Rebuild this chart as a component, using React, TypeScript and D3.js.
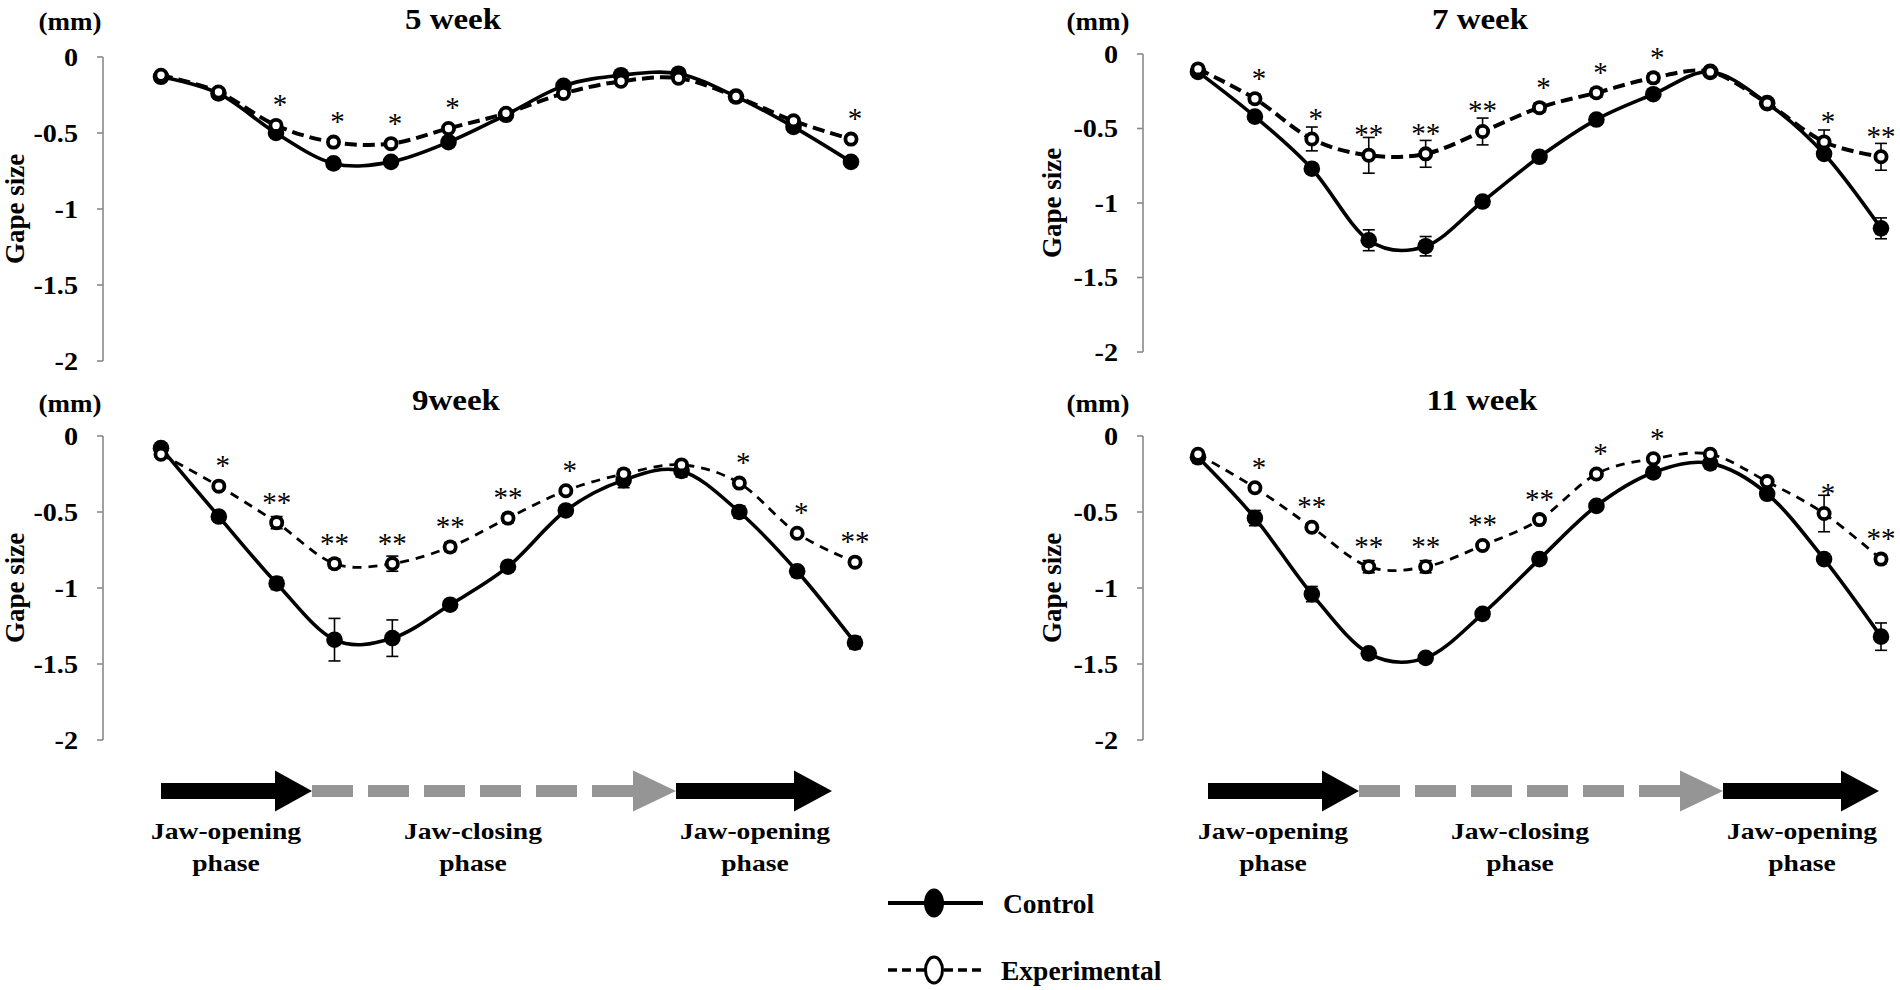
import * as d3 from 'd3';

// 13 time points through one chewing cycle
const timePoints = [1, 2, 3, 4, 5, 6, 7, 8, 9, 10, 11, 12, 13];

const yTicks = [0, -0.5, -1, -1.5, -2];
const yTickLabels = ['0', '-0.5', '-1', '-1.5', '-2'];

const control5 = [-0.13, -0.24, -0.5, -0.7, -0.69, -0.56, -0.38, -0.19, -0.12, -0.11, -0.26, -0.46, -0.69];
const experimental5 = [-0.12, -0.23, -0.45, -0.56, -0.57, -0.47, -0.37, -0.24, -0.16, -0.14, -0.26, -0.42, -0.54];
const controlErr5 = [0.02, 0.02, 0.02, 0.02, 0.02, 0.02, 0.02, 0.02, 0.02, 0.02, 0.02, 0.02, 0.02];
const experimentalErr5 = [0.02, 0.02, 0.02, 0.02, 0.02, 0.02, 0.02, 0.02, 0.02, 0.02, 0.02, 0.02, 0.02];
const stars5 = ['', '', '*', '*', '*', '*', '', '', '', '', '', '', '*'];

const control7 = [-0.12, -0.42, -0.77, -1.25, -1.29, -0.99, -0.69, -0.44, -0.27, -0.12, -0.33, -0.67, -1.17];
const experimental7 = [-0.1, -0.3, -0.57, -0.68, -0.67, -0.52, -0.36, -0.26, -0.16, -0.12, -0.33, -0.59, -0.69];
const controlErr7 = [0.02, 0.03, 0.03, 0.07, 0.065, 0.03, 0.03, 0.02, 0.02, 0.02, 0.02, 0.03, 0.07];
const experimentalErr7 = [0.02, 0.03, 0.08, 0.12, 0.09, 0.09, 0.03, 0.03, 0.03, 0.02, 0.02, 0.08, 0.09];
const stars7 = ['', '*', '*', '**', '**', '**', '*', '*', '*', '', '', '*', '**'];

const control9 = [-0.08, -0.53, -0.97, -1.34, -1.33, -1.11, -0.86, -0.49, -0.29, -0.23, -0.5, -0.89, -1.36];
const experimental9 = [-0.12, -0.33, -0.57, -0.84, -0.84, -0.73, -0.54, -0.36, -0.25, -0.19, -0.31, -0.64, -0.83];
const controlErr9 = [0.02, 0.03, 0.04, 0.14, 0.12, 0.03, 0.03, 0.03, 0.05, 0.04, 0.04, 0.03, 0.04];
const experimentalErr9 = [0.02, 0.02, 0.04, 0.03, 0.05, 0.03, 0.03, 0.02, 0.03, 0.02, 0.02, 0.02, 0.02];
const stars9 = ['', '*', '**', '**', '**', '**', '**', '*', '', '', '*', '*', '**'];

const control11 = [-0.14, -0.54, -1.04, -1.43, -1.46, -1.17, -0.81, -0.46, -0.24, -0.18, -0.38, -0.81, -1.32];
const experimental11 = [-0.12, -0.34, -0.6, -0.86, -0.86, -0.72, -0.55, -0.25, -0.15, -0.12, -0.3, -0.51, -0.81];
const controlErr11 = [0.02, 0.05, 0.05, 0.03, 0.03, 0.03, 0.02, 0.02, 0.02, 0.02, 0.02, 0.02, 0.09];
const experimentalErr11 = [0.02, 0.02, 0.02, 0.04, 0.04, 0.02, 0.02, 0.02, 0.02, 0.02, 0.02, 0.12, 0.03];
const stars11 = ['', '*', '**', '**', '**', '**', '**', '*', '*', '', '', '*', '**'];

const phaseLabels = [
  ['Jaw-opening', 'phase'],
  ['Jaw-closing', 'phase'],
  ['Jaw-opening', 'phase'],
];
const legendLabels = ['Control', 'Experimental'];

const SERIF = '"Liberation Serif", "Times New Roman", Times, serif';

type Panel = {
  title: string;
  control: number[];
  experimental: number[];
  controlErr: number[];
  experimentalErr: number[];
  stars: string[];
  axisX: number;
  xFirst: number;
  xLast: number;
  yTop: number;
  yBottom: number;
  titleX: number;
  titleY: number;
  unitX: number;
  unitY: number;
  gapeX: number;
  dashWidth: number;
  dash: string;
};

const panels: Panel[] = [
  {
    title: '5 week', control: control5, experimental: experimental5, controlErr: controlErr5,
    experimentalErr: experimentalErr5, stars: stars5,
    axisX: 103, xFirst: 161, xLast: 851, yTop: 57, yBottom: 361,
    titleX: 453, titleY: 29, unitX: 70, unitY: 30, gapeX: 15, dashWidth: 4, dash: '12 6',
  },
  {
    title: '7 week', control: control7, experimental: experimental7, controlErr: controlErr7,
    experimentalErr: experimentalErr7, stars: stars7,
    axisX: 1143, xFirst: 1198, xLast: 1881, yTop: 54, yBottom: 352,
    titleX: 1480, titleY: 29, unitX: 1098, unitY: 30, gapeX: 1052, dashWidth: 4, dash: '12 6',
  },
  {
    title: '9week', control: control9, experimental: experimental9, controlErr: controlErr9,
    experimentalErr: experimentalErr9, stars: stars9,
    axisX: 103, xFirst: 161, xLast: 855, yTop: 436, yBottom: 740,
    titleX: 456, titleY: 410, unitX: 70, unitY: 412, gapeX: 15, dashWidth: 2.8, dash: '9 7',
  },
  {
    title: '11 week', control: control11, experimental: experimental11, controlErr: controlErr11,
    experimentalErr: experimentalErr11, stars: stars11,
    axisX: 1143, xFirst: 1198, xLast: 1881, yTop: 436, yBottom: 740,
    titleX: 1482, titleY: 410, unitX: 1098, unitY: 412, gapeX: 1052, dashWidth: 2.8, dash: '9 7',
  },
];

function Label({ x, y, size, sx = 1, anchor = 'middle', weight = 'bold', rotate = 0, children }: {
  x: number; y: number; size: number; sx?: number; anchor?: string; weight?: string; rotate?: number;
  children: React.ReactNode;
}) {
  return (
    <text
      transform={`translate(${x},${y}) rotate(${rotate}) scale(${sx},1)`}
      textAnchor={anchor}
      fontSize={size}
      fontWeight={weight}
      fontFamily={SERIF}
      fill="#000"
    >
      {children}
    </text>
  );
}

function ChartPanel({ p }: { p: Panel }) {
  const x = d3.scaleLinear().domain([1, 13]).range([p.xFirst, p.xLast]);
  const y = d3.scaleLinear().domain([0, -2]).range([p.yTop, p.yBottom]);
  const line = d3
    .line<number>()
    .x((_, i) => x(timePoints[i]))
    .y((d) => y(d))
    .curve(d3.curveCardinal.tension(0));

  const errBar = (v: number, e: number, i: number, key: string) => {
    const cx = x(timePoints[i]);
    const y1 = y(v + e);
    const y2 = y(v - e);
    return (
      <g key={key} stroke="#000" strokeWidth={1.6}>
        <line x1={cx} x2={cx} y1={y1} y2={y2} />
        <line x1={cx - 6} x2={cx + 6} y1={y1} y2={y1} />
        <line x1={cx - 6} x2={cx + 6} y1={y2} y2={y2} />
      </g>
    );
  };

  return (
    <g>
      <Label x={p.titleX} y={p.titleY} size={30} sx={1.1}>{p.title}</Label>
      <Label x={p.unitX} y={p.unitY} size={25} sx={1.08}>(mm)</Label>
      <Label x={p.gapeX + 9} y={(p.yTop + p.yBottom) / 2} size={27} rotate={-90}>Gape size</Label>

      {/* y axis */}
      <line x1={p.axisX} x2={p.axisX} y1={p.yTop} y2={p.yBottom} stroke="#8a8a8a" strokeWidth={1.6} />
      {yTicks.map((t, i) => (
        <g key={t}>
          <line x1={p.axisX - 6} x2={p.axisX} y1={y(t)} y2={y(t)} stroke="#8a8a8a" strokeWidth={1.6} />
          <Label x={p.axisX - 25} y={y(t) + 8.5} size={24.5} sx={1.15} anchor="end">{yTickLabels[i]}</Label>
        </g>
      ))}

      <path d={line(p.control) ?? ''} fill="none" stroke="#000" strokeWidth={3.6} />
      <path
        d={line(p.experimental) ?? ''}
        fill="none"
        stroke="#000"
        strokeWidth={p.dashWidth}
        strokeDasharray={p.dash}
      />

      {p.control.map((v, i) => errBar(v, p.controlErr[i], i, `ce${i}`))}
      {p.experimental.map((v, i) => errBar(v, p.experimentalErr[i], i, `ee${i}`))}

      {p.control.map((v, i) => (
        <circle key={`c${i}`} cx={x(timePoints[i])} cy={y(v)} r={8.3} fill="#000" />
      ))}
      {p.experimental.map((v, i) => (
        <circle key={`e${i}`} cx={x(timePoints[i])} cy={y(v)} r={5.6} fill="#fff" stroke="#000" strokeWidth={3.8} />
      ))}

      {p.stars.map((s, i) =>
        s ? (
          <Label key={`s${i}`} x={x(timePoints[i]) + (s.length === 1 ? 4 : 0)} y={y(p.experimental[i]) - 11} size={29} weight="normal">
            {s}
          </Label>
        ) : null,
      )}
    </g>
  );
}

function PhaseArrows({ x0 }: { x0: number }) {
  const cy = 791;
  const dashes = d3.range(6).map((k) => x0 + 151 + k * 56);
  const labelX = [x0 + 65, x0 + 312, x0 + 594];
  return (
    <g>
      {/* first jaw-opening arrow */}
      <rect x={x0} y={cy - 8} width={115} height={16} fill="#000" />
      <polygon points={`${x0 + 114},${cy - 20.5} ${x0 + 151},${cy} ${x0 + 114},${cy + 20.5}`} fill="#000" />
      {/* jaw-closing dashed arrow */}
      {dashes.map((dx) => (
        <rect key={dx} x={dx} y={cy - 6} width={41} height={12} fill="#959595" />
      ))}
      <polygon points={`${x0 + 472},${cy - 20.5} ${x0 + 515},${cy} ${x0 + 472},${cy + 20.5}`} fill="#959595" />
      {/* second jaw-opening arrow */}
      <rect x={x0 + 515} y={cy - 8} width={119} height={16} fill="#000" />
      <polygon points={`${x0 + 633},${cy - 20.5} ${x0 + 671},${cy} ${x0 + 633},${cy + 20.5}`} fill="#000" />

      {phaseLabels.map((lines, i) => (
        <g key={i}>
          <Label x={labelX[i]} y={839} size={23} sx={1.2}>{lines[0]}</Label>
          <Label x={labelX[i]} y={871} size={23} sx={1.2}>{lines[1]}</Label>
        </g>
      ))}
    </g>
  );
}

function Legend() {
  return (
    <g>
      <line x1={888} x2={983} y1={903} y2={903} stroke="#000" strokeWidth={4} />
      <ellipse cx={934} cy={903} rx={10} ry={14.5} fill="#000" />
      <Label x={1003} y={913} size={27.5} anchor="start">{legendLabels[0]}</Label>

      <line x1={888} x2={983} y1={970} y2={970} stroke="#000" strokeWidth={3.5} strokeDasharray="9 5" />
      <ellipse cx={934} cy={970} rx={8.5} ry={13} fill="#fff" stroke="#000" strokeWidth={3} />
      <Label x={1001} y={980} size={27.5} anchor="start">{legendLabels[1]}</Label>
    </g>
  );
}

export default function App() {
  return (
    <svg
      width={1900}
      height={990}
      viewBox="0 0 1900 990"
      style={{ position: 'absolute', left: 0, top: 0, background: '#fff', display: 'block' }}
    >
      <rect width={1900} height={990} fill="#fff" />
      {panels.map((p) => (
        <ChartPanel key={p.title} p={p} />
      ))}
      <PhaseArrows x0={161} />
      <PhaseArrows x0={1208} />
      <Legend />
    </svg>
  );
}
